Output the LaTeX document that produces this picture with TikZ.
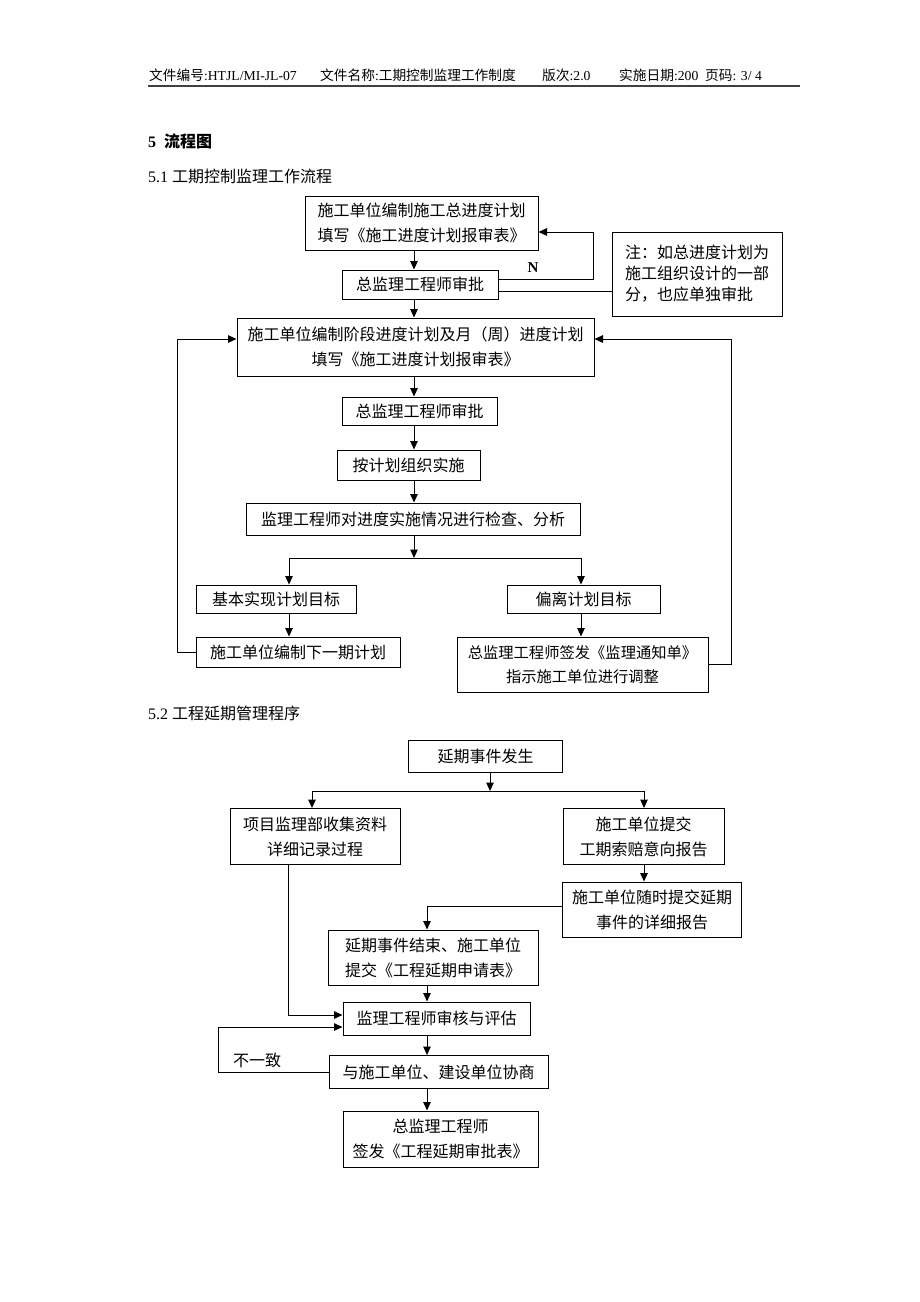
\documentclass[tikz,border=0pt]{standalone}
\usepackage{fontspec}
\setmainfont{Liberation Serif}
\newfontfamily\cjk{Noto Sans CJK SC}
\usetikzlibrary{arrows.meta,calc}
\begin{document}
\begin{tikzpicture}[x=1pt,y=-1pt,
  box/.style={draw, line width=1pt, inner sep=0pt, align=center,
    font=\cjk\fontsize{16}{25}\selectfont},
  arr/.style={-{Triangle[length=8.5pt,width=7.5pt]}, line width=1pt},
  ln/.style={line width=1pt},
  hdr/.style={anchor=west, inner sep=0pt, font=\fontsize{13.7}{16}\selectfont},
  head/.style={anchor=west, inner sep=0pt, font=\fontsize{16}{20}\selectfont},
  lab/.style={inner sep=0pt, font=\cjk\fontsize{16}{20}\selectfont}]
\useasboundingbox[fill=white] (0,0) rectangle (920,1302);

% header
\node[hdr] (h1) at (149,75) {{\cjk 文件编号}:HTJL/MI-JL-07};
\node[hdr] (h2) at (320,75) {{\cjk 文件名称}:{\cjk 工期控制监理工作制度}};
\node[hdr] (h3) at (542,75) {{\cjk 版次}:2.0};
\node[hdr] (h4) at (619,75) {{\cjk 实施日期}:200\ \ {\cjk 页码}: 3/ 4};
\coordinate (r1) at (148,86);
\coordinate (r2) at (800,86);
\draw[line width=1.6pt, black!75] (r1) -- (r2);

% headings
\node[head] (t1) at (148,141) {\textbf{5\ \ {\cjk 流程图}}};
\node[head] (t2) at (148,176) {5.1 {\cjk 工期控制监理工作流程}};
\node[head] (t3) at (148,713) {5.2 {\cjk 工程延期管理程序}};

% ---------- section 5.1 ----------
\node[box, minimum width=233pt, minimum height=54pt] (A) at (421.5,223) {施工单位编制施工总进度计划\\填写《施工进度计划报审表》};
\node[box, minimum width=156pt, minimum height=29pt] (B) at (420,284.5) {总监理工程师审批};
\node[box, minimum width=170pt, minimum height=84pt, align=left, font=\cjk\fontsize{16}{21}\selectfont] (note) at (697,274) {注：如总进度计划为\\施工组织设计的一部\\分，也应单独审批};
\node[box, minimum width=357pt, minimum height=58pt] (C) at (415.5,347) {施工单位编制阶段进度计划及月（周）进度计划\\填写《施工进度计划报审表》};
\node[box, minimum width=155pt, minimum height=28pt] (D) at (419.5,411) {总监理工程师审批};
\node[box, minimum width=143pt, minimum height=30pt] (E) at (408.5,465) {按计划组织实施};
\node[box, minimum width=334pt, minimum height=32pt] (F) at (413,519) {监理工程师对进度实施情况进行检查、分析};
\node[box, minimum width=160pt, minimum height=28pt] (G) at (276,599) {基本实现计划目标};
\node[box, minimum width=153pt, minimum height=28pt] (H) at (583.5,599) {偏离计划目标};
\node[box, minimum width=204pt, minimum height=30pt] (I) at (298,652) {施工单位编制下一期计划};
\node[box, minimum width=251pt, minimum height=55pt, font=\cjk\fontsize{15.3}{24}\selectfont] (J) at (582.5,664.5) {总监理工程师签发《监理通知单》\\指示施工单位进行调整};

\node[inner sep=0pt, font=\bfseries\fontsize{15}{18}\selectfont] (nlab) at (533,268) {N};

\coordinate (c414) at (414,0);
\coordinate (c289) at (289,0);
\coordinate (c581) at (581,0);
\coordinate (nA) at (593,232);
\coordinate (s1) at (414,558);
\coordinate (lL) at (177,339);
\coordinate (lR) at (731,339);

\draw[arr] (A.south -| c414) -- (B.north -| c414);
\draw[arr] ([yshift=5.5pt]B.east) -| (nA) -- (nA -| A.east);
\draw[ln] ([yshift=-6.5pt]B.east) -- ([yshift=-6.5pt]B.east -| note.west);
\draw[arr] (B.south -| c414) -- (C.north -| c414);
\draw[arr] (C.south -| c414) -- (D.north -| c414);
\draw[arr] (D.south -| c414) -- (E.north -| c414);
\draw[arr] (E.south -| c414) -- (F.north -| c414);
\draw[arr] (F.south -| c414) -- (s1);
\draw[arr] (s1) -| (G.north -| c289);
\draw[arr] (s1) -| (H.north -| c581);
\draw[arr] (G.south -| c289) -- (I.north -| c289);
\draw[arr] (H.south -| c581) -- (J.north -| c581);
\draw[arr] (I.west) -| (lL) -- (lL -| C.west);
\draw[arr] (J.east) -| (lR) -- (lR -| C.east);

% ---------- section 5.2 ----------
\node[box, minimum width=154pt, minimum height=32pt] (K) at (485.5,756) {延期事件发生};
\node[box, minimum width=170pt, minimum height=56pt] (L) at (315,836.5) {项目监理部收集资料\\详细记录过程};
\node[box, minimum width=161pt, minimum height=56pt] (M) at (643.5,836.5) {施工单位提交\\工期索赔意向报告};
\node[box, minimum width=179pt, minimum height=55pt] (N) at (652,909.5) {施工单位随时提交延期\\事件的详细报告};
\node[box, minimum width=210pt, minimum height=55pt, align=left] (O) at (433,957.5) {延期事件结束、施工单位\\提交《工程延期申请表》};
\node[box, minimum width=187pt, minimum height=33pt] (P) at (436.5,1018.5) {监理工程师审核与评估};
\node[box, minimum width=219pt, minimum height=33pt] (Q) at (438.5,1072) {与施工单位、建设单位协商};
\node[box, minimum width=195pt, minimum height=56pt] (R) at (440.5,1139) {总监理工程师\\签发《工程延期审批表》};

\node[lab] (bz) at (257,1060) {不一致};

\coordinate (c490) at (490,0);
\coordinate (c312) at (312,0);
\coordinate (c644) at (644,0);
\coordinate (c427) at (427,0);
\coordinate (s2) at (490,791);
\coordinate (nO) at (427,906);
\coordinate (lp) at (288,1015);
\coordinate (lq) at (218,1027);

\draw[arr] (K.south -| c490) -- (s2);
\draw[arr] (s2) -| (L.north -| c312);
\draw[arr] (s2) -| (M.north -| c644);
\draw[arr] (M.south -| c644) -- (N.north -| c644);
\draw[arr] (N.west |- nO) -- (nO) -- (O.north -| nO);
\draw[arr] (O.south -| c427) -- (P.north -| c427);
\draw[arr] (L.south -| lp) -- (lp) -- (lp -| P.west);
\draw[arr] (P.south -| c427) -- (Q.north -| c427);
\draw[arr] (Q.west) -| (lq) -- (lq -| P.west);
\draw[arr] (Q.south -| c427) -- (R.north -| c427);
\end{tikzpicture}
\end{document}
